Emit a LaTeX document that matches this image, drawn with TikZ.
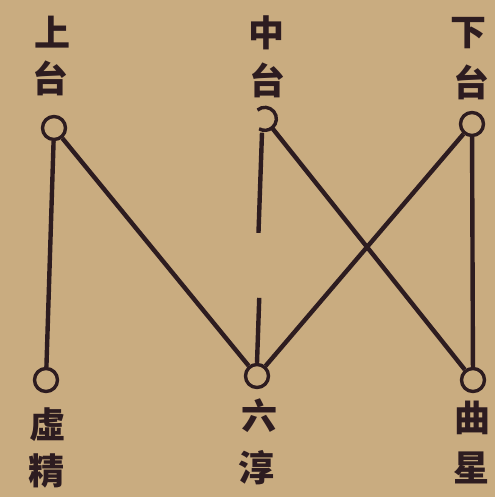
\documentclass[tikz,border=0pt]{standalone}
\usepackage{fontspec}
\newfontfamily\cjk{Noto Sans CJK TC}
\usetikzlibrary{calc}
\definecolor{paper}{RGB}{201,172,128}
\definecolor{ink}{RGB}{45,28,32}
\tikzset{
  star/.style={circle,draw=ink,line width=3.4pt,minimum size=23pt,inner sep=0pt},
  hidden/.style={circle,minimum size=23pt,inner sep=0pt},
  lbl/.style={text=ink,font=\cjk\bfseries\fontsize{36}{36}\selectfont,inner sep=0pt},
  link/.style={draw=ink,line width=4.4pt}
}
\begin{document}
\begin{tikzpicture}[x=1pt,y=-1pt]
\fill[paper] (0,0) rectangle (495,497);
\useasboundingbox (0,0) rectangle (495,497);
% top labels
\node[lbl] (s1) at (52,32) {上};
\node[lbl] (s2) at (50,78) {台};
\node[lbl] (z1) at (266,33) {中};
\node[lbl] (z2) at (267,80) {台};
\node[lbl] (x1) at (468,33) {下};
\node[lbl] (x2) at (471,82) {台};
% bottom labels
\node[lbl] (b1) at (47,425) {虛};
\node[lbl] (b2) at (46,471) {精};
\node[lbl] (c1) at (259,416) {六};
\node[lbl] (c2) at (256,468) {淳};
\node[lbl] (d1) at (472,418) {曲};
\node[lbl] (d2) at (471,468) {星};
% circles
\node[star] (sc) at (54,128) {};
\node[hidden] (zc) at (265,119) {};
\draw[ink,line width=3.4pt] (zc.130) arc (130:-120:11.5pt);
\node[star] (xc) at (472,124) {};
\node[star] (xj) at (46,380) {};
\node[star] (lc) at (257,376) {};
\node[star] (qx) at (473,380) {};
% connectors
\draw[link] (sc) -- (xj);
\draw[link] (sc) -- (lc);
\draw[link] ($(zc.south)+(-3,2)$) -- ($(zc.south)!0.44!(lc.north)+(-3,0)$);
\draw[link] ($(zc.south)!0.72!(lc.north)$) -- (lc.north);
\draw[link] (zc) -- (qx);
\draw[link] (xc) -- (lc);
\draw[link] (xc) -- (qx);
\end{tikzpicture}
\end{document}
